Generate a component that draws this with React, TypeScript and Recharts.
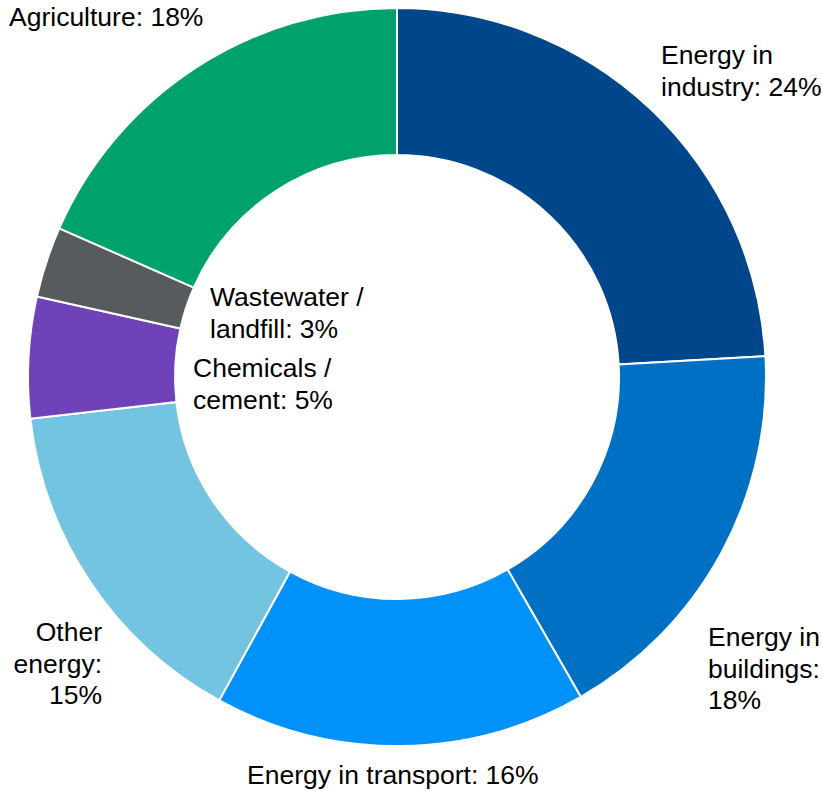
import { PieChart, Pie, Cell } from 'recharts'

const sectors = ['Energy in industry', 'Energy in buildings', 'Energy in transport', 'Other energy', 'Chemicals / cement', 'Wastewater / landfill', 'Agriculture']
const shares = [24.1, 17.6, 16.3, 15.2, 5.3, 3.1, 18.4]
const colors = ['#00468B', '#0070C5', '#0091F9', '#73C4E1', '#6F42B9', '#575B5E', '#00A26C']

// label text as printed on the chart
const labelLines = [
  ['Energy in', 'industry: 24%'],
  ['Energy in', 'buildings:', '18%'],
  ['Energy in transport: 16%'],
  ['Other', 'energy:', '15%'],
  ['Chemicals /', 'cement: 5%'],
  ['Wastewater /', 'landfill: 3%'],
  ['Agriculture: 18%'],
]

const labelPos: React.CSSProperties[] = [
  { left: 661, top: 40 },
  { left: 708, top: 622 },
  { left: 247, top: 760 },
  { right: 720, top: 617, textAlign: 'right' },
  { left: 193, top: 353 },
  { left: 210, top: 282 },
  { left: 9, top: 2 },
]

const data = sectors.map((name, i) => ({ name, value: shares[i] }))

export default function App() {
  return (
    <div style={{ position: 'absolute', left: 0, top: 0, width: 822, height: 791, background: '#fff', fontFamily: '"Liberation Sans", Arial, sans-serif' }}>
      <PieChart width={822} height={791} margin={{ top: 0, right: 0, bottom: 0, left: 0 }}>
        <Pie
          data={data}
          dataKey="value"
          cx={397}
          cy={377}
          innerRadius={222}
          outerRadius={369}
          startAngle={90}
          endAngle={-270}
          stroke="#fff"
          strokeWidth={2}
          isAnimationActive={false}
        >
          {data.map((d, i) => <Cell key={d.name} fill={colors[i]} />)}
        </Pie>
      </PieChart>
      {labelLines.map((lines, i) => (
        <div key={i} style={{ position: 'absolute', fontSize: '26.5px', lineHeight: '31.5px', color: '#000', whiteSpace: 'nowrap', ...labelPos[i] }}>
          {lines.map(l => <div key={l}>{l}</div>)}
        </div>
      ))}
    </div>
  )
}
